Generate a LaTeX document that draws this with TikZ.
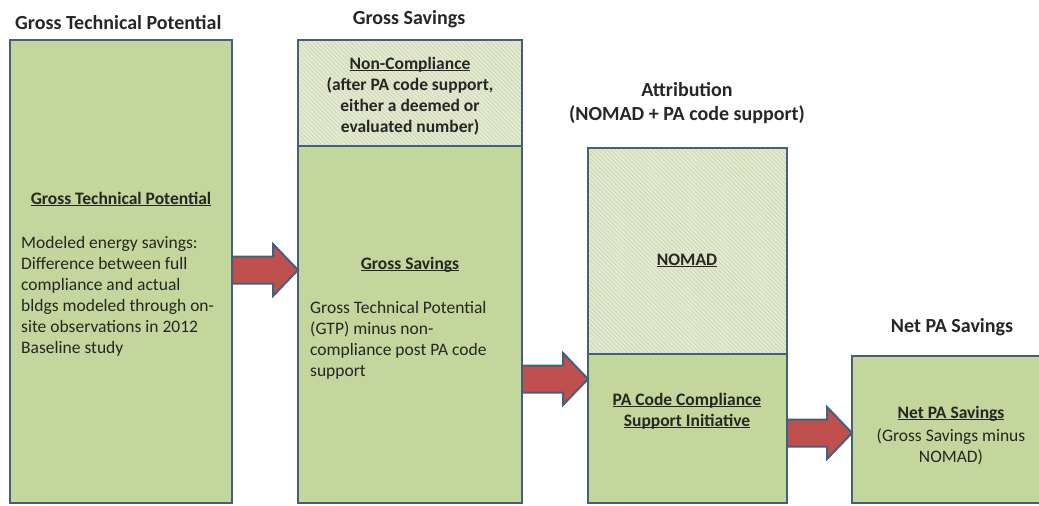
\documentclass[tikz,border=0pt]{standalone}
\usepackage{fontspec}
\setmainfont{Carlito}
\usetikzlibrary{patterns.meta,calc}

\definecolor{boxgreen}{HTML}{C3D69B}
\definecolor{hatchbg}{HTML}{E4E9D1}
\definecolor{hatchline}{HTML}{CAD4AC}
\definecolor{edgeblue}{HTML}{43607F}
\definecolor{arrowred}{HTML}{C0504D}
\definecolor{ink}{HTML}{262626}

% underline set just below the baseline, through descenders
\newcommand\headul[1]{\setbox0=\hbox{#1}\rlap{\rule[-2.4pt]{\wd0}{1.1pt}}\box0}

\begin{document}
\begin{tikzpicture}[x=1pt,y=-1pt,
  panel/.style={draw=edgeblue, line width=2.6pt, fill=boxgreen, inner sep=0pt, outer sep=0pt},
  hatched/.style={draw=edgeblue, line width=2.6pt, inner sep=0pt, outer sep=0pt,
    preaction={fill=hatchbg},
    preaction={pattern={Lines[angle=-45,distance=3pt,line width=0.6pt]}, pattern color=hatchline}},
  title/.style={font=\fontsize{20}{24}\selectfont\bfseries, text=ink, inner sep=0pt, align=center},
  head/.style={font=\fontsize{17.5}{21}\selectfont\bfseries, text=ink, inner sep=0pt, align=center},
  body/.style={font=\fontsize{17.5}{21}\selectfont, text=ink, inner sep=0pt},
  blockarrow/.style={draw=edgeblue, line width=2pt, fill=arrowred, line join=miter,
    to path={let \p1=(\tikztostart), \p2=(\tikztotarget) in
      (\x1,\y1+13.5pt) -- (\x2-25pt,\y1+13.5pt) -- (\x2-25pt,\y1+26pt) -- (\x2,\y1)
      -- (\x2-25pt,\y1-26pt) -- (\x2-25pt,\y1-13.5pt) -- (\x1,\y1-13.5pt) -- cycle}},
]
\useasboundingbox (0,0) rectangle (1039,506);

% column titles (multi-line nodes are placed by the baseline of their last line)
\node[title, anchor=base west] (t1) at (15,29) {Gross Technical Potential};
\node[title, anchor=base] (t2) at (409,24) {Gross Savings};
\node[title, anchor=base] (t3) at (687,120) {Attribution\\(NOMAD + PA code support)};
\node[title, anchor=base] (t4) at (952,332) {Net PA Savings};

% panels
\node[panel, minimum width=222pt, minimum height=463pt] (gtp) at (121,271.5) {};
\node[panel, minimum width=224pt, minimum height=357pt] (gs) at (410,324.5) {};
\node[hatched, minimum width=224pt, minimum height=106pt] (nc) at (410,93) {};
\node[panel, minimum width=199pt, minimum height=149pt] (pa) at (687.5,428.5) {};
\node[hatched, minimum width=199pt, minimum height=206pt] (nomad) at (687.5,251) {};
\node[panel, minimum width=248pt, minimum height=147pt] (net) at (976,429.5) {};

% panel texts
\node[head, anchor=base] (h1) at (121,204) {\headul{Gross Technical Potential}};
\node[body, anchor=base west, align=left] (b1) at (21,353)
  {Modeled energy savings:\\Difference between full\\compliance and  actual\\bldgs modeled through on-\\site observations in 2012\\Baseline study};
\node[head, anchor=base] (h2a) at (410,132)
  {\headul{Non-Compliance}\\(after PA code support,\\either a deemed or\\evaluated number)};
\node[head, anchor=base] (h2) at (410,269) {\headul{Gross Savings}};
\node[body, anchor=base west, align=left] (b2) at (310,376)
  {Gross Technical Potential\\(GTP) minus non-\\compliance post PA code\\support};
\node[head, anchor=base] (h3a) at (687,265) {\headul{NOMAD}};
\node[head, anchor=base] (h3) at (687,426) {\headul{PA Code Compliance}\\\headul{Support Initiative}};
\node[head, anchor=base] (h4) at (951,418) {\headul{Net PA Savings}};
\node[body, anchor=base, align=center] (b4) at (951,462) {(Gross Savings minus\\NOMAD)};

% block arrows between the columns
\coordinate (y1) at (0,270);
\coordinate (y2) at (0,379);
\coordinate (y3) at (0,433);
\draw[blockarrow] (gtp.east |- y1) to (gs.west |- y1);
\draw[blockarrow] (gs.east |- y2) to (pa.west |- y2);
\draw[blockarrow] (pa.east |- y3) to (net.west |- y3);
\end{tikzpicture}
\end{document}
